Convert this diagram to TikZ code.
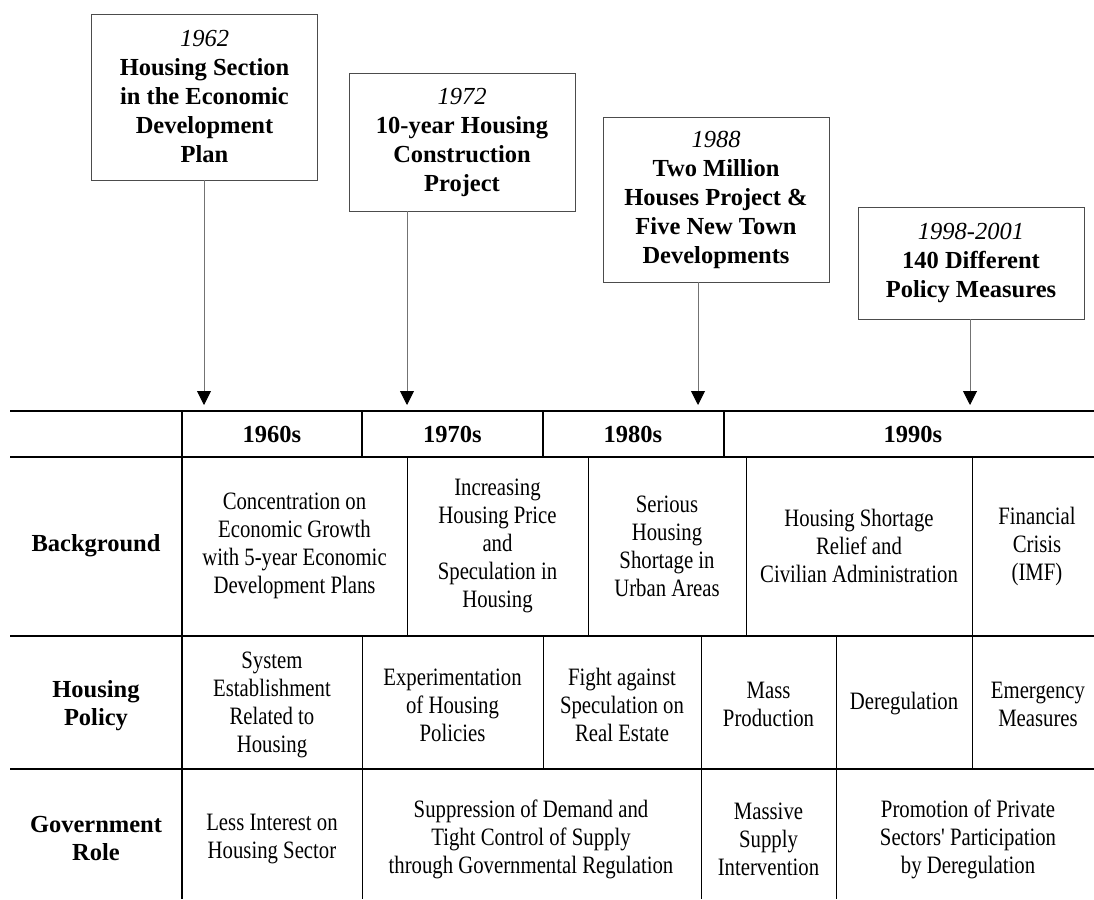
\documentclass[tikz,border=0pt]{standalone}
\usepackage{fontspec}
\setmainfont{Liberation Serif}
\newfontfamily\cellfont{Liberation Serif}[FakeStretch=0.83]
\usetikzlibrary{arrows.meta,positioning}

\tikzset{
  event/.style={draw=black!70, line width=0.9pt, align=center, minimum width=226pt,
    inner sep=0pt, font=\fontsize{24.5}{29}\selectfont\bfseries},
  rowhead/.style={align=center, font=\fontsize{24.5}{28}\selectfont\bfseries},
  decade/.style={font=\fontsize{24.5}{28}\selectfont\bfseries},
  cell/.style={align=center, font=\cellfont\fontsize{25}{28}\selectfont},
  hrule/.style={line width=1.6pt},
  vrule/.style={line width=1.4pt},
  thinrule/.style={line width=1pt},
  conn/.style={draw=black!55, line width=0.9pt, -{Triangle[width=14pt,length=14pt,color=black]}}
}

\begin{document}
\begin{tikzpicture}[x=1pt, y=-1pt]
      \useasboundingbox (0,0) rectangle (1094,899);
      % Define nodes
      \node[event, minimum height=166pt] (y1962) at (204.5,97)
        {{\mdseries\itshape 1962}\\Housing Section\\in the Economic\\Development\\Plan};
      \node[event, minimum height=138pt] (y1972) at (462,142)
        {{\mdseries\itshape 1972}\\10-year Housing\\Construction\\Project};
      \node[event, minimum height=165pt] (y1988) at (716,199.5)
        {{\mdseries\itshape 1988}\\Two Million\\Houses Project \&\\Five New Town\\Developments};
      \node[event, minimum height=112pt] (y1998) at (971,263)
        {{\mdseries\itshape 1998-2001}\\140 Different\\Policy Measures};
      \coordinate (t62) at (204,405);
      \coordinate (t72) at (407,405);
      \coordinate (t88) at (698,405);
      \coordinate (t98) at (970,405);

      % Table
      \foreach \y in {411,457,636,769} \draw[hrule] (10,\y) -- (1094,\y);
      \draw[vrule] (182,411) -- (182,899);
      \foreach \x in {362,543,724} \draw[vrule] (\x,411) -- (\x,457);
      \foreach \x in {407,588,746,972} \draw[thinrule] (\x,457) -- (\x,636);
      \foreach \x in {362,543,701,836,972} \draw[thinrule] (\x,636) -- (\x,769);
      \foreach \x in {362,701,836} \draw[thinrule] (\x,769) -- (\x,899);

      \node[decade] (d60) at (272,434) {1960s};
      \node[decade] (d70) at (452.5,434) {1970s};
      \node[decade] (d80) at (633,434) {1980s};
      \node[decade] (d90) at (913,434) {1990s};

      \node[rowhead] (bg) at (96,546) {Background};
      \node[rowhead] (hp) at (96,706) {Housing\\Policy};
      \node[rowhead] (gr) at (96,838) {Government\\Role};

      \node[cell] (bg60) at (294.5,546) {Concentration on\\Economic Growth\\with 5-year Economic\\Development Plans};
      \node[cell] (bg70) at (497.5,546) {Increasing\\Housing Price\\and\\Speculation in\\Housing};
      \node[cell] (bg80) at (667,546) {Serious\\Housing\\Shortage in\\Urban Areas};
      \node[cell] (bg90) at (859,546) {Housing Shortage\\Relief and\\Civilian Administration};
      \node[cell] (bgimf) at (1037,546) {Financial\\Crisis\\(IMF)};

      \node[cell] (hp60) at (272,705) {System\\Establishment\\Related to\\Housing};
      \node[cell] (hp70) at (452.5,705) {Experimentation\\of Housing\\Policies};
      \node[cell] (hp80) at (622,705) {Fight against\\Speculation on\\Real Estate};
      \node[cell] (hpmass) at (768.5,704) {Mass\\Production};
      \node[cell] (hpdereg) at (904,704) {Deregulation};
      \node[cell] (hpemg) at (1038,704) {Emergency\\Measures};

      \node[cell] (gr60) at (272,839) {Less Interest on\\Housing Sector};
      \node[cell] (gr70) at (531,839) {Suppression of Demand and\\Tight Control of Supply\\through Governmental Regulation};
      \node[cell] (gr80) at (768.5,839) {Massive\\Supply\\Intervention};
      \node[cell] (gr90) at (968,839) {Promotion of Private\\Sectors' Participation\\by Deregulation};

      % Connect nodes
      \draw[conn] (y1962.south -| t62) -- (t62);
      \draw[conn] (y1972.south -| t72) -- (t72);
      \draw[conn] (y1988.south -| t88) -- (t88);
      \draw[conn] (y1998.south -| t98) -- (t98);
    \end{tikzpicture}
\end{document}
